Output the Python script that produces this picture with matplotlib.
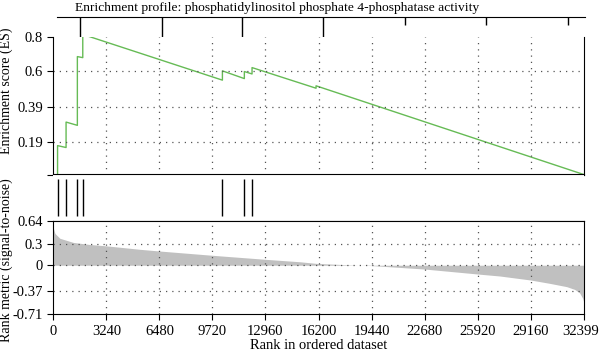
import numpy as np
import matplotlib.pyplot as plt
from matplotlib.transforms import ScaledTranslation

plt.rcParams['font.family'] = ['Liberation Serif', 'DejaVu Serif']

# running enrichment score (rank, ES)
es_rank = [260, 260, 780, 780, 1470, 1470, 1800, 1800, 10330, 10330,
           11670, 11670, 12140, 12140, 16050, 16050, 32399]
es_value = [0.0, 0.168, 0.157, 0.305, 0.286, 0.686, 0.68, 0.815, 0.549, 0.603,
            0.558, 0.599, 0.585, 0.622, 0.502, 0.516, 0.0]

# gene set hits
hit_rank = [260, 780, 1470, 1800, 10330, 11670, 12140]

# ranked list metric (signal-to-noise)
metric_rank = [0, 100, 400, 1220, 2240, 3260, 5300, 6520, 9760, 12990, 15070,
               16050, 18600, 19440, 22680, 25920, 27280, 29160, 30320, 31360,
               31850, 32150, 32340, 32399]
metric_value = [0.54, 0.46, 0.39, 0.33, 0.30, 0.28, 0.23, 0.205, 0.143, 0.085,
                0.05, 0.027, 0.0, -0.005, -0.055, -0.127, -0.156, -0.214,
                -0.262, -0.31, -0.35, -0.40, -0.48, -0.53]

x_ticks = [0, 3240, 6480, 9720, 12960, 16200, 19440, 22680, 25920, 29160, 32399]
es_ticks = [0.8, 0.6, 0.39, 0.19]
metric_ticks = [0.64, 0.3, 0, -0.37, -0.71]
metric_labels = ['0.64', '0.3', '0', '-0.37', '-0.71']

# ticks on the title strip
top_ticks = [1650, 6650, 11530, 16470, 21480, 26420, 31420]
top_tick_len = [1.0, 1.0, 1.0, 1.0, 0.4, 0.4, 0.4]

n_genes = 32399
grid_style = dict(color='#555555', linestyle=(0, (1, 4)), linewidth=0.9)

fig = plt.figure(figsize=(6, 3.53), dpi=100)
W, H = 600, 353
left = 53.3 / W
width = (583.7 - 53.3) / W


def box(top, bottom):
    return [left, 1 - bottom / H, width, (bottom - top) / H]


ax_t = fig.add_axes(box(17, 37))
ax_es = fig.add_axes(box(37, 174.5))
ax_hit = fig.add_axes(box(174.5, 221))
ax_m = fig.add_axes(box(221, 314.3))

# title strip
ax_t.set_xlim(0, n_genes)
ax_t.set_ylim(0, 1)
for s in ['left', 'right', 'bottom']:
    ax_t.spines[s].set_visible(False)
ax_t.spines['top'].set_bounds(226, 32480)
ax_t.set_xticks([])
ax_t.set_yticks([])
ax_t.vlines(top_ticks, [1 - l for l in top_tick_len], 1, color='black', linewidth=1)
fig.text(277 / W, 1 - 11 / H,
         'Enrichment profile: phosphatidylinositol phosphate 4-phosphatase activity',
         fontsize=9.7, ha='center', va='baseline')

# enrichment score
ax_es.plot(es_rank, es_value, color='#66bb55', linewidth=1)
ax_es.set_xlim(0, n_genes)
ax_es.set_ylim(0, 0.8)
ax_es.spines['top'].set_visible(False)
ax_es.set_yticks([0] + es_ticks)
ax_es.set_yticklabels([''] + [str(t) for t in es_ticks])
ax_es.set_xticks([])
for t in x_ticks[1:-1]:
    ax_es.axvline(t, **grid_style)
for t in es_ticks[1:]:
    ax_es.axhline(t, **grid_style)
ax_es.set_ylabel('Enrichment score (ES)', fontsize=10)
ax_es.tick_params(axis='y', direction='out', length=4, labelsize=10.5)

# hits
ax_hit.set_xlim(0, n_genes)
ax_hit.set_ylim(0, 1)
ax_hit.vlines(hit_rank, 0.1, 0.9, color='black', linewidth=1)
ax_hit.spines['left'].set_visible(False)
ax_hit.spines['right'].set_visible(False)
ax_hit.set_xticks([])
ax_hit.set_yticks([])

# ranked metric
ax_m.fill_between(metric_rank, 0, metric_value, color='#c0c0c0', linewidth=0)
ax_m.set_xlim(0, n_genes)
ax_m.set_ylim(-0.71, 0.64)
ax_m.set_yticks(metric_ticks)
ax_m.set_yticklabels(metric_labels)
ax_m.set_xticks(x_ticks)
ax_m.set_xticklabels([str(t) for t in x_ticks])
for t in x_ticks[1:-1]:
    ax_m.axvline(t, **grid_style)
for t in metric_ticks[1:-1]:
    ax_m.axhline(t, **grid_style)
ax_m.tick_params(direction='out', length=4, labelsize=10.5)
ax_m.set_xlabel('Rank in ordered dataset', fontsize=10.5, labelpad=1)
ax_m.set_ylabel('Rank metric (signal-to-noise)', fontsize=10)

# keep the last x label inside the figure
last = ax_m.get_xticklabels()[-1]
last.set_transform(last.get_transform() + ScaledTranslation(-3 / 100, 0, fig.dpi_scale_trans))

ax_es.yaxis.set_label_coords(-0.076, 0.607)
ax_m.yaxis.set_label_coords(-0.076, 0.58)

fig.savefig('out.png', dpi=100)
